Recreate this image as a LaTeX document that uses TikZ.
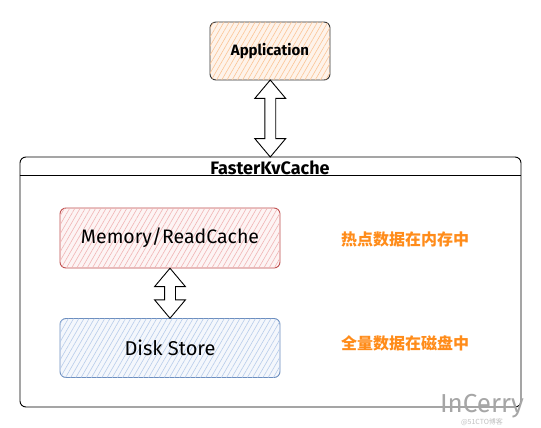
\documentclass[tikz,border=0pt]{standalone}
\usepackage{fontspec}
\setmainfont{Fira Sans}
\newfontfamily\cjk{Noto Sans CJK SC}
\usetikzlibrary{shapes.arrows,patterns.meta,calc}
\definecolor{appline}{HTML}{333333}
\definecolor{apphatch}{HTML}{FBC495}
\definecolor{memline}{HTML}{BF5050}
\definecolor{memhatch}{HTML}{F0B4B4}
\definecolor{diskline}{HTML}{6C8EBF}
\definecolor{diskhatch}{HTML}{B7CCEA}
\definecolor{notetext}{HTML}{FF8C1A}

\begin{document}
\begin{tikzpicture}[x=1pt,y=-1pt]
    \tikzset{box/.style={rectangle,rounded corners=6pt,draw,line width=0.9pt}}
    \tikzset{hatched/.style={postaction={pattern={Lines[angle=60,distance=4.5pt,line width=0.6pt]},pattern color=#1}}}
    \tikzset{fatarrow/.style={double arrow,draw=black,fill=white,line width=0.9pt,inner sep=5pt,double arrow head extend=10pt,double arrow tip angle=80,shape border rotate=90}}
    \tikzset{note/.style={font=\cjk\bfseries\fontsize{16}{16}\selectfont,text=notetext}}
    \useasboundingbox (0,0) rectangle (541,428);
    \draw (270,51) node[box,draw=appline,fill=apphatch!20,hatched=apphatch,minimum width=120,minimum height=58,font=\bfseries\fontsize{15}{15}\selectfont](app){Application};
    \draw (270.5,282) node[box,draw=black,fill=white,minimum width=501,minimum height=250](cache){};
    \draw (270,168) node[font=\bfseries\fontsize{18}{18}\selectfont](title){FasterKvCache};
    \draw ([yshift=-19pt]cache.north west) -- ([yshift=-19pt]cache.north east);
    \draw (170,238) node[box,draw=memline,fill=memhatch!15,hatched=memhatch,minimum width=220,minimum height=60,font=\fontsize{19.5}{19.5}\selectfont](mem){Memory/ReadCache};
    \draw (170,348) node[box,draw=diskline,fill=diskhatch!15,hatched=diskhatch,minimum width=220,minimum height=59,font=\fontsize{20}{20}\selectfont](disk){Disk Store};
    \draw (405,239) node[note](n1){热点数据在内存中};
    \draw (405,343) node[note](n2){全量数据在磁盘中};
    \draw ($(app.south)!0.5!(cache.north)$) node[fatarrow,minimum height=77](a1){};
    \draw ($(mem.south)!0.5!(disk.north)$) node[fatarrow,minimum height=50](a2){};
    \draw (482,406) node[font=\fontsize{26}{26}\selectfont,text=black!35](wm){InCerry};
    \draw (482,422) node[font=\cjk\fontsize{7}{7}\selectfont,text=black!25](wm2){@51CTO博客};
\end{tikzpicture}
\end{document}
